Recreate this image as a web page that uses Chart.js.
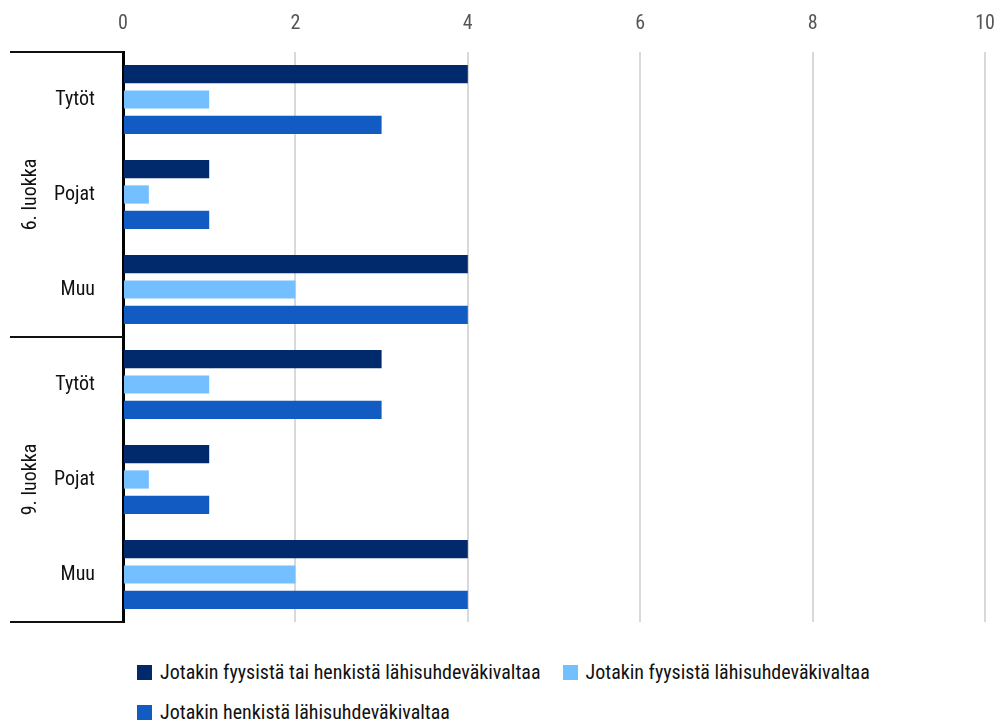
<!DOCTYPE html>
<html>
<head>
<meta charset="utf-8">
<script src="https://cdn.jsdelivr.net/npm/chart.js@4"></script>
<style>
  html, body { margin: 0; background: #fff; overflow: hidden; }
  #wrap { position: relative; width: 996px; height: 724px; }
  #chart { position: absolute; left: 0; top: 0; }
  #legend { position: absolute; left: 137px; top: 659px; width: 820px;
    font-family: "Roboto Condensed", "Open Sans", sans-serif; font-size: 20px; color: #111; }
  .item { display: inline-flex; align-items: center; margin-right: 22px; height: 26px; margin-bottom: 14px; }
  .sw { width: 15px; height: 15px; margin-right: 8px; display: inline-block; }
</style>
</head>
<body>
<div id="wrap">
  <canvas id="chart" width="996" height="640"></canvas>
  <div id="legend"></div>
</div>
<script>
const FONT = '"Roboto Condensed", "Open Sans", sans-serif';

const groups = ['6. luokka', '9. luokka'];
const categories = ['Tytöt', 'Pojat', 'Muu', 'Tytöt', 'Pojat', 'Muu'];
const seriesNames = [
    'Jotakin fyysistä tai henkistä lähisuhdeväkivaltaa',
    'Jotakin fyysistä lähisuhdeväkivaltaa',
    'Jotakin henkistä lähisuhdeväkivaltaa'
];
const fyysinenTaiHenkinen = [4, 1, 4, 3, 1, 4];
const fyysinen = [1, 0.3, 2, 1, 0.3, 2];
const henkinen = [3, 1, 4, 3, 1, 4];
const colors = ['#002a6c', '#74bfff', '#125bc2'];
const xTicks = [0, 2, 4, 6, 8, 10];

// group labels and separator lines on the left
const groupPlugin = {
    id: 'groups',
    afterDraw(chart) {
        const ctx = chart.ctx;
        const y = chart.scales.y;
        const area = chart.chartArea;
        const per = categories.length / groups.length;
        ctx.save();
        ctx.strokeStyle = '#111';
        ctx.lineWidth = 2;
        for (let g = 0; g <= groups.length; g++) {
            const yy = area.top + (area.bottom - area.top) * g / groups.length;
            ctx.beginPath();
            ctx.moveTo(10, Math.round(yy));
            ctx.lineTo(area.left, Math.round(yy));
            ctx.stroke();
        }
        ctx.fillStyle = '#111';
        ctx.font = '20px ' + FONT;
        ctx.textAlign = 'center';
        ctx.textBaseline = 'middle';
        groups.forEach((name, g) => {
            const a = y.getPixelForValue(g * per);
            const b = y.getPixelForValue(g * per + per - 1);
            ctx.save();
            ctx.translate(31, (a + b) / 2);
            ctx.rotate(-Math.PI / 2);
            ctx.fillText(name, 0, 0);
            ctx.restore();
        });
        ctx.restore();
    }
};

const chart = new Chart(document.getElementById('chart'), {
    type: 'bar',
    data: {
        labels: categories,
        datasets: [
            { label: seriesNames[0], data: fyysinenTaiHenkinen, backgroundColor: colors[0] },
            { label: seriesNames[1], data: fyysinen, backgroundColor: colors[1] },
            { label: seriesNames[2], data: henkinen, backgroundColor: colors[2] }
        ]
    },
    options: {
        indexAxis: 'y',
        responsive: false,
        animation: false,
        layout: { padding: { left: 0, right: 11, top: 0, bottom: 18 } },
        datasets: { bar: { categoryPercentage: 0.8, barPercentage: 0.72 } },
        plugins: { legend: { display: false }, tooltip: { enabled: false } },
        scales: {
            x: {
                position: 'top',
                min: 0, max: 10,
                afterBuildTicks: s => { s.ticks = xTicks.map(v => ({ value: v })); },
                afterFit: s => { s.height = 52; s.paddingRight = 0; s.paddingLeft = 0; },
                ticks: { color: '#555', font: { family: FONT, size: 20 }, padding: 16 },
                grid: { color: '#d9d9d9', lineWidth: 2, drawTicks: false },
                border: { display: false }
            },
            y: {
                afterFit: s => { s.width = 123; s.paddingTop = 0; s.paddingBottom = 0; },
                ticks: { color: '#111', font: { family: FONT, size: 20 }, padding: 20 },
                grid: { display: false },
                border: { color: '#000', width: 3 }
            }
        }
    },
    plugins: [groupPlugin]
});

const legend = document.getElementById('legend');
chart.data.datasets.forEach(ds => {
    legend.innerHTML += `<span class="item"><span class="sw" style="background:${ds.backgroundColor}"></span>${ds.label}</span>`;
});
</script>
</body>
</html>
